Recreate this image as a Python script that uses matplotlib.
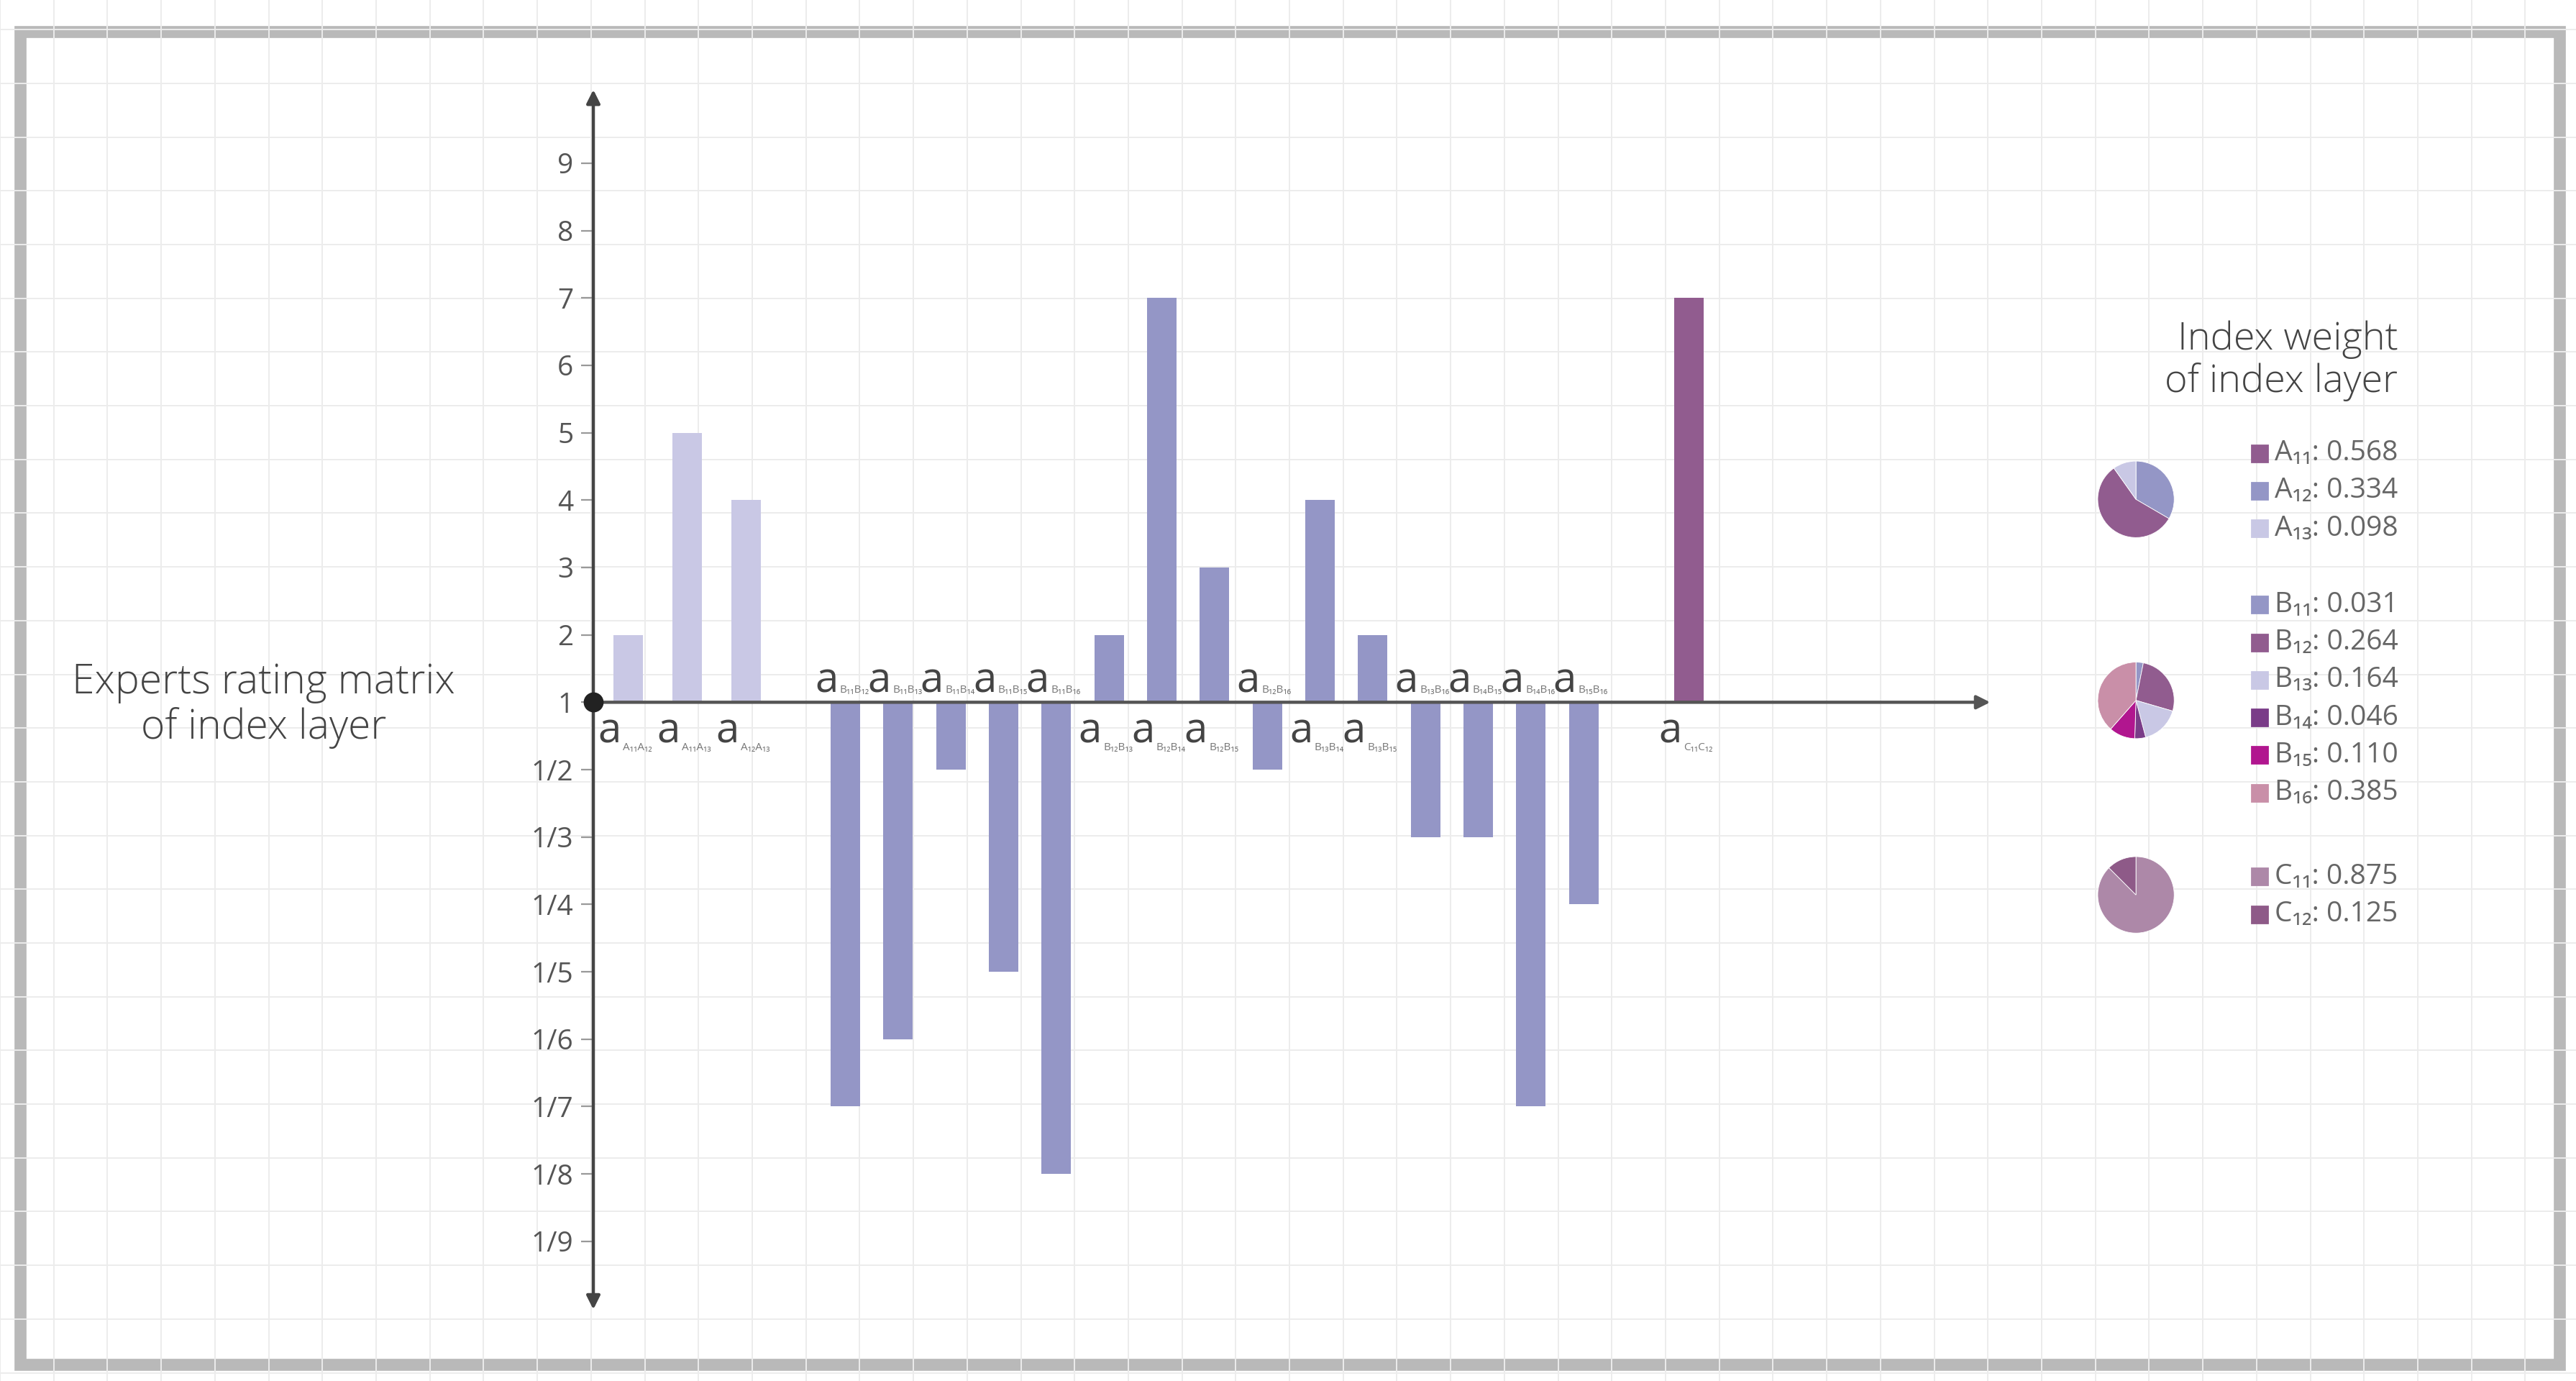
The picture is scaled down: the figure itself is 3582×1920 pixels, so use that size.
import numpy as np
import matplotlib
matplotlib.use("Agg")
import matplotlib.pyplot as plt
from matplotlib.patches import Rectangle

plt.rcParams['font.family'] = ['Open Sans', 'DejaVu Sans']

# ---------------- data ----------------
a_labels = ["A₁₁A₁₂", "A₁₁A₁₃", "A₁₂A₁₃"]
a_values = [2, 5, 4]
b_labels = ["B₁₁B₁₂", "B₁₁B₁₃", "B₁₁B₁₄", "B₁₁B₁₅", "B₁₁B₁₆",
            "B₁₂B₁₃", "B₁₂B₁₄", "B₁₂B₁₅", "B₁₂B₁₆", "B₁₃B₁₄",
            "B₁₃B₁₅", "B₁₃B₁₆", "B₁₄B₁₅", "B₁₄B₁₆", "B₁₅B₁₆"]
b_values = [1/7, 1/6, 1/2, 1/5, 1/8, 2, 7, 3, 1/2, 4, 2, 1/3, 1/3, 1/7, 1/4]
c_labels = ["C₁₁C₁₂"]
c_values = [7]
ytick_labels = ["9", "8", "7", "6", "5", "4", "3", "2", "1",
                "1/2", "1/3", "1/4", "1/5", "1/6", "1/7", "1/8", "1/9"]
ytick_values = [9, 8, 7, 6, 5, 4, 3, 2, 1,
                1/2, 1/3, 1/4, 1/5, 1/6, 1/7, 1/8, 1/9]

pie_a_names = ["A₁₁", "A₁₂", "A₁₃"]
pie_a_vals = [0.568, 0.334, 0.098]
pie_b_names = ["B₁₁", "B₁₂", "B₁₃", "B₁₄", "B₁₅", "B₁₆"]
pie_b_vals = [0.031, 0.264, 0.164, 0.046, 0.110, 0.385]
pie_c_names = ["C₁₁", "C₁₂"]
pie_c_vals = [0.875, 0.125]

# ---------------- styles ----------------
col_a = "#c9c8e5"
col_b = "#9496c6"
col_c = "#915c8f"
pie_a_cols = ["#915c8f", "#9496c6", "#c9c8e5"]
pie_b_cols = ["#9496c6", "#915c8f", "#c9c8e5", "#7a3c88", "#b1168f", "#c98fa8"]
pie_c_cols = ["#ad88a8", "#8e5a88"]

W, H = 1563, 838  # layout units (reference display px)
fig = plt.figure(figsize=(17.91, 9.6), dpi=200)

# background grid + frame
bg = fig.add_axes([0, 0, 1, 1])
bg.set_xlim(0, W); bg.set_ylim(H, 0)
bg.set_xticks(np.arange(0, W, 32.6)); bg.set_yticks(np.arange(18, H, 32.6))
bg.grid(True, color="#ececec", lw=0.7)
bg.tick_params(length=0, labelbottom=False, labelleft=False)
for s in bg.spines.values():
    s.set_visible(False)
bg.add_patch(Rectangle((12, 19), 1541, 809, fill=False, ec="#b9b9b9", lw=6))

def ypos(v):
    return v - 1 if v >= 1 else -(1 / v - 1)

# main axes
ax = fig.add_axes([360 / W, 1 - 797 / H, 850 / W, 745 / H])
ax.patch.set_alpha(0)
ax.set_xlim(0, 850 / 32)
ax.set_ylim(-9.07, 9.15)
for s in ax.spines.values():
    s.set_visible(False)

xa = [0.66 + i * 1.12 for i in range(len(a_values))]
xb = [4.78 + i for i in range(len(b_values))]
xc = [xb[-1] + 2.0]
bw = 0.56
for xs, vals, col in [(xa, a_values, col_a), (xb, b_values, col_b), (xc, c_values, col_c)]:
    ax.bar(xs, [ypos(v) for v in vals], width=bw, color=col, zorder=2)

# axes arrows
ax.annotate("", xy=(850 / 32, 0), xytext=(0, 0),
            arrowprops=dict(arrowstyle="-|>", color="#555555", lw=1.6, mutation_scale=14), zorder=3)
ax.annotate("", xy=(0, 9.15), xytext=(0, 0),
            arrowprops=dict(arrowstyle="-|>", color="#444444", lw=1.6, mutation_scale=14))
ax.annotate("", xy=(0, -9.07), xytext=(0, 0),
            arrowprops=dict(arrowstyle="-|>", color="#444444", lw=1.6, mutation_scale=14))
ax.plot([0], [0], "o", color="#222222", ms=9, zorder=5, clip_on=False)

ax.set_xticks([])
ax.set_yticks([ypos(v) for v in ytick_values])
ax.set_yticklabels(ytick_labels, fontsize=14, color="#555555")
ax.tick_params(axis="y", direction="out", length=6, color="#999999", pad=4)

# bar labels
for xs, vals, labs in [(xa, a_values, a_labels), (xb, b_values, b_labels), (xc, c_values, c_labels)]:
    for x, v, lab in zip(xs, vals, labs):
        below = ypos(v) > 0
        yy = -0.12 if below else 0.0
        va = "top" if below else "bottom"
        ax.text(x - bw / 2 - 0.3, yy, "a", fontsize=21, color="#444444", va=va, ha="left", zorder=4)
        ax.annotate(lab, xy=(x - bw / 2 - 0.3, yy), xytext=(12.5, -21.5 if below else 3.5),
                    textcoords="offset points", fontsize=5.5, color="#777777",
                    va="bottom", ha="left")

fig.text(160 / W, 1 - 428 / H, "Experts rating matrix\nof index layer", ha="center", va="center",
         fontsize=20.5, color="#444444", linespacing=1.1, fontweight="light")
fig.text(1455 / W, 1 - 219 / H, "Index weight\nof index layer", ha="right", va="center",
         fontsize=19.5, color="#444444", linespacing=1.1, fontweight="light")

# pies + legends
def legend_rows(names, vals, cols, leg_y0):
    for i, (n, v, c) in enumerate(zip(names, vals, cols)):
        yy = leg_y0 + i * 22.8
        fig.patches.append(Rectangle((1366 / W, 1 - (yy + 5) / H), 10 / W, 10 / H,
                                     transform=fig.transFigure, color=c))
        fig.text(1380 / W, 1 - yy / H, f"{n}: {v:.3f}", fontsize=14, color="#666666", va="center")

def pie(cy, vals, cols):
    r = 29
    pa = fig.add_axes([(1296 - r) / W, 1 - (cy + r) / H, 2 * r / W, 2 * r / H])
    pa.pie(vals, colors=cols, startangle=90, counterclock=False,
           wedgeprops=dict(edgecolor="white", linewidth=0.3))
    pa.set_aspect("equal")

pie_a_order = [1, 0, 2]
pie(303, [pie_a_vals[i] for i in pie_a_order], [pie_a_cols[i] for i in pie_a_order])
legend_rows(pie_a_names, pie_a_vals, pie_a_cols, 275)
pie(425, pie_b_vals, pie_b_cols)
legend_rows(pie_b_names, pie_b_vals, pie_b_cols, 367)
pie(543, pie_c_vals, pie_c_cols)
legend_rows(pie_c_names, pie_c_vals, pie_c_cols, 532)

fig.savefig("out.png", dpi=200)
